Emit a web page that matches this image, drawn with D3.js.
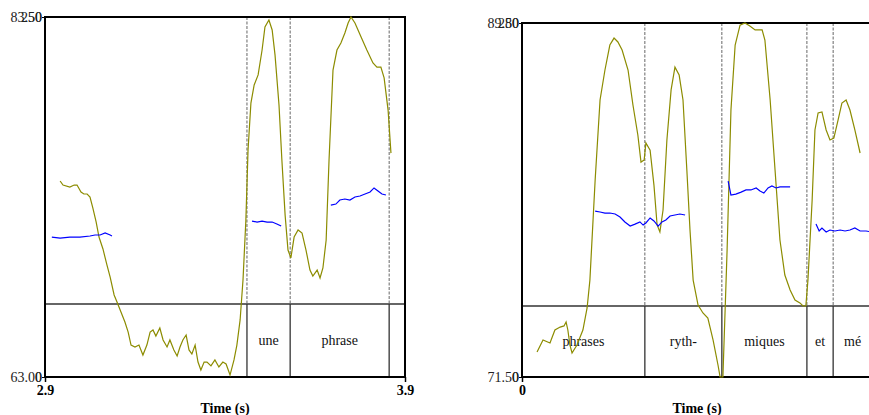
<!DOCTYPE html>
<html><head><meta charset="utf-8">
<script src="https://cdn.jsdelivr.net/npm/d3@7"></script>
<style>
html,body{margin:0;padding:0;background:#fff;}
svg{display:block;font-family:"Liberation Serif","Times New Roman",serif;}
</style></head>
<body>
<svg id="chart" width="869" height="415"></svg>
<script>
// ---------- LEFT PANEL DATA ----------
const leftTimes = [2.942,2.950,2.969,2.981,2.989,3.000,3.008,3.017,3.025,3.033,3.042,3.050,3.061,3.072,3.081,3.092,3.100,3.111,3.122,3.131,3.139,3.150,3.161,3.172,3.183,3.192,3.200,3.208,3.219,3.228,3.239,3.247,3.258,3.267,3.275,3.283,3.292,3.300,3.308,3.317,3.325,3.333,3.342,3.350,3.361,3.372,3.383,3.394,3.403,3.414,3.425,3.433,3.442,3.450,3.458,3.464,3.472,3.481,3.492,3.503,3.511,3.522,3.531,3.539,3.550,3.558,3.567,3.575,3.583,3.592,3.603,3.614,3.625,3.636,3.644,3.656,3.664,3.672,3.681,3.689,3.700,3.711,3.722,3.733,3.742,3.750,3.761,3.778,3.794,3.811,3.822,3.833,3.842,3.853,3.861];
const leftIntensity = [74.16,73.93,73.82,73.93,73.93,73.53,73.42,73.42,73.25,72.62,71.83,70.97,70.29,69.38,68.69,67.67,67.27,66.70,66.13,65.56,64.82,64.71,64.82,64.25,64.82,65.56,65.68,65.33,65.79,65.11,64.71,65.11,64.54,64.20,64.71,65.11,65.39,64.54,64.31,64.82,63.85,63.40,63.85,63.85,63.63,63.97,63.57,63.85,63.74,63.11,63.97,64.82,66.25,68.52,71.94,75.93,78.60,79.63,80.20,81.62,82.93,83.33,82.76,81.33,78.49,75.36,72.22,70.23,69.78,70.97,71.37,71.20,70.23,69.09,68.75,69.09,68.64,69.21,70.80,75.36,80.48,81.62,82.02,82.59,83.16,83.50,83.16,82.36,81.62,80.88,80.65,80.65,80.03,78.20,75.75];
const leftPitchTimes = [
  [2.919,2.942,2.969,2.997,3.025,3.039,3.053,3.067,3.081,3.086],
  [3.475,3.489,3.503,3.517,3.531,3.544,3.556],
  [3.694,3.708,3.719,3.733,3.747,3.761,3.775,3.789,3.803,3.814,3.825,3.836,3.847]
];
const leftPitch = [
  [97.2,96.5,97.2,97.2,97.9,98.6,98.6,100.0,98.6,97.9],
  [108.3,107.6,108.3,107.6,107.6,106.3,104.9],
  [119.4,120.1,122.9,123.6,122.9,125.0,125.7,127.1,128.5,131.3,129.2,127.1,126.4]
];
const leftBoundaries = [3.461,3.581,3.856];
const leftWords = ["","une","phrase",""];
const leftTimeDomain = [2.9,3.9];
const leftDbDomain = [63.00,83.50];
const leftTickLabels = ["2.9","3.9"];

// ---------- RIGHT PANEL DATA ----------
const rightTimes = [0.043,0.060,0.080,0.094,0.109,0.120,0.126,0.131,0.137,0.143,0.157,0.174,0.186,0.194,0.209,0.223,0.237,0.251,0.263,0.274,0.286,0.303,0.317,0.331,0.340,0.349,0.354,0.366,0.377,0.386,0.394,0.403,0.414,0.426,0.437,0.449,0.460,0.471,0.480,0.489,0.503,0.517,0.531,0.546,0.560,0.566,0.574,0.586,0.597,0.609,0.623,0.637,0.651,0.666,0.686,0.694,0.709,0.723,0.737,0.751,0.766,0.780,0.794,0.803,0.811,0.817,0.829,0.837,0.846,0.857,0.869,0.880,0.891,0.903,0.914,0.926,0.937,0.951,0.966];
const rightIntensity = [72.79,73.41,73.26,73.93,74.08,74.14,74.34,73.93,73.15,72.74,73.15,73.93,75.07,76.51,81.68,85.82,87.37,88.66,89.02,88.82,88.40,87.37,85.56,84.01,82.61,82.72,83.60,83.23,81.42,79.36,79.00,80.13,83.75,86.34,87.52,87.11,85.82,82.20,79.10,76.51,75.22,74.81,74.55,73.41,72.12,71.50,71.50,78.06,85.30,88.66,89.69,89.80,89.64,89.44,89.44,88.92,85.82,82.20,78.58,76.77,76.00,75.48,75.33,75.17,75.17,76.51,80.65,84.27,85.15,85.20,84.27,83.75,83.85,84.78,85.66,85.82,85.30,84.27,83.08];
const rightPitchTimes = [
  [0.209,0.223,0.237,0.251,0.266,0.280,0.294,0.309,0.323,0.337,0.346,0.354,0.366,0.377,0.389,0.400,0.411,0.423,0.437,0.451,0.466],
  [0.589,0.597,0.611,0.626,0.640,0.654,0.669,0.680,0.691,0.703,0.714,0.726,0.737,0.751,0.766],
  [0.840,0.849,0.857,0.869,0.880,0.894,0.909,0.923,0.937,0.951,0.966,0.983,1.000]
];
const rightPitch = [
  [117.2,116.5,115.8,115.8,115.1,113.0,109.5,106.6,108.0,109.5,107.3,108.8,112.3,110.2,106.6,109.5,110.9,113.7,114.4,115.1,114.4],
  [138.4,128.5,129.2,130.6,132.1,132.1,133.5,131.4,129.9,133.5,134.9,133.5,134.2,134.2,134.2],
  [108.0,103.1,105.2,102.4,103.8,103.1,103.8,103.1,103.8,105.2,103.1,103.1,102.4]
];
const rightBoundaries = [0.351,0.571,0.814,0.889];
const rightWords = ["phrases","ryth-","miques","et","mé"];
const rightTimeDomain = [0,1.0];
const rightDbDomain = [71.50,89.80];
const rightTickLabels = ["0"];

const pitchDomain = [0,250];
const axisTitle = "Time (s)";

const OLIVE = "#8c8c00", BLUE = "#0000ff";
const svg = d3.select("#chart");

function drawPanel(p) {
  const g = svg.append("g");
  const x = d3.scaleLinear().domain(p.tDomain).range([p.x0, p.x1]);
  const yDb = d3.scaleLinear().domain(p.dbDomain).range([p.y1, p.y0]);
  const yHz = d3.scaleLinear().domain(pitchDomain).range([p.y1, p.y0]);

  g.append("line").attr("x1", p.x0).attr("x2", p.x1).attr("y1", p.tierTop).attr("y2", p.tierTop)
    .attr("stroke", "#333").attr("stroke-width", 1.5);

  p.bounds.forEach(b => {
    g.append("line").attr("x1", x(b)).attr("x2", x(b)).attr("y1", p.y0).attr("y2", p.tierTop)
      .attr("stroke", "#666").attr("stroke-width", 1).attr("stroke-dasharray", "3,1.5");
    g.append("line").attr("x1", x(b)).attr("x2", x(b)).attr("y1", p.tierTop).attr("y2", p.y1)
      .attr("stroke", "#333").attr("stroke-width", 1.3);
  });

  const edges = [p.tDomain[0], ...p.bounds, p.tDomain[1]];
  p.words.forEach((w, i) => {
    if (!w) return;
    g.append("text").attr("x", (x(edges[i]) + x(edges[i+1])) / 2).attr("y", (p.tierTop + p.y1) / 2)
      .attr("text-anchor", "middle").attr("dominant-baseline", "central")
      .attr("font-size", 14).attr("fill", "#111").text(w);
  });

  g.append("rect").attr("x", p.x0).attr("y", p.y0).attr("width", p.x1 - p.x0).attr("height", p.y1 - p.y0)
    .attr("fill", "none").attr("stroke", "#000").attr("stroke-width", 2);

  const ayDb = d3.axisLeft(yDb).tickValues(p.dbDomain).tickFormat(d3.format(".2f")).tickSize(3).tickPadding(0);
  const ayHz = d3.axisLeft(yHz).tickValues(pitchDomain).tickFormat(d3.format("d")).tickSize(3).tickPadding(0);
  [ayDb, ayHz].forEach(a => {
    const ga = g.append("g").attr("transform", `translate(${p.x0},0)`).call(a);
    ga.select(".domain").remove();
    ga.selectAll("text").attr("font-size", 14).attr("font-family", "Liberation Serif, serif").attr("fill", "#222");
    ga.selectAll("line").attr("stroke", "#000");
  });

  const tickVals = p.tickLabels.map(Number);
  const ax = d3.axisBottom(x).tickValues(tickVals).tickFormat((d, i) => p.tickLabels[i]).tickSize(5).tickPadding(3);
  const gx = g.append("g").attr("transform", `translate(0,${p.y1})`).call(ax);
  gx.select(".domain").remove();
  gx.selectAll("text").attr("font-size", 14).attr("font-weight", "bold").attr("font-family", "Liberation Serif, serif").attr("fill", "#000");
  gx.selectAll("line").attr("stroke", "#000").attr("stroke-width", 1.5);

  g.append("text").attr("x", (p.x0 + p.x1) / 2).attr("y", 408).attr("text-anchor", "middle")
    .attr("dominant-baseline", "central").attr("font-size", 14).attr("font-weight", "bold").text(axisTitle);

  const lineDb = d3.line().x((d) => x(d[0])).y((d) => yDb(d[1]));
  g.append("path").datum(p.times.map((t, i) => [t, p.db[i]]))
    .attr("d", lineDb).attr("fill", "none").attr("stroke", OLIVE).attr("stroke-width", 1.2);

  const lineHz = d3.line().x((d) => x(d[0])).y((d) => yHz(d[1]));
  p.pt.forEach((seg, k) => {
    g.append("path").datum(seg.map((t, i) => [t, p.pv[k][i]]))
      .attr("d", lineHz).attr("fill", "none").attr("stroke", BLUE).attr("stroke-width", 1.2);
  });
}

drawPanel({x0: 45, x1: 405, y0: 17, y1: 377, tierTop: 304,
  tDomain: leftTimeDomain, dbDomain: leftDbDomain, tickLabels: leftTickLabels,
  times: leftTimes, db: leftIntensity, pt: leftPitchTimes, pv: leftPitch,
  bounds: leftBoundaries, words: leftWords});

drawPanel({x0: 522, x1: 872, y0: 23, y1: 377, tierTop: 306,
  tDomain: rightTimeDomain, dbDomain: rightDbDomain, tickLabels: rightTickLabels,
  times: rightTimes, db: rightIntensity, pt: rightPitchTimes, pv: rightPitch,
  bounds: rightBoundaries, words: rightWords});
</script>
</body></html>
